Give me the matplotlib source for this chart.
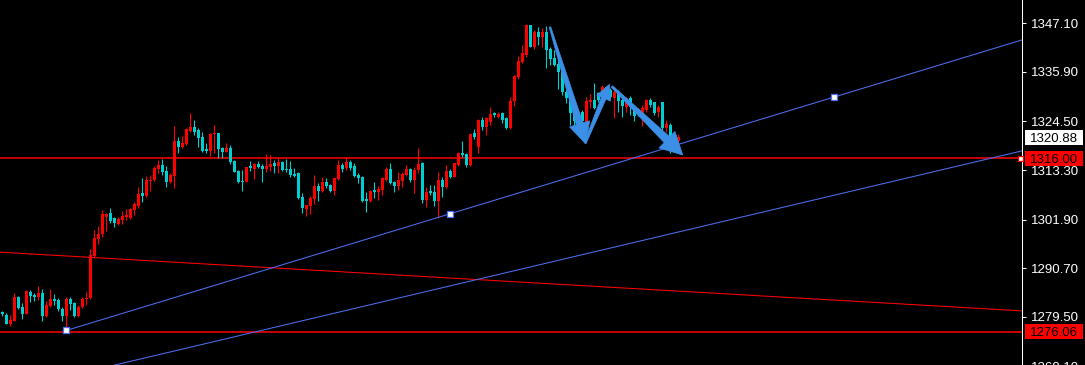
import numpy as np
import matplotlib
matplotlib.use('Agg')
import matplotlib.pyplot as plt
from matplotlib.patches import Polygon, Rectangle
from matplotlib.transforms import IdentityTransform

# --- candle data, one entry per bar ---
opens = [1280.7, 1280.0, 1277.9, 1278.6, 1284.2, 1281.9, 1280.2, 1285.2, 1284.5, 1284.0,
         1285.1, 1279.7, 1282.0, 1283.7, 1283.4, 1281.4, 1279.8, 1283.7, 1282.6, 1279.7,
         1281.7, 1283.6, 1283.8, 1293.5, 1297.4, 1298.5, 1302.4, 1303.3, 1302.2, 1300.8,
         1301.8, 1302.5, 1302.2, 1304.1, 1305.1, 1307.9, 1307.4, 1310.8, 1311.0, 1313.5,
         1314.5, 1313.1, 1310.5, 1312.0, 1320.0, 1318.5, 1319.3, 1322.3, 1323.1, 1322.5,
         1320.8, 1318.1, 1317.7, 1321.5, 1321.8, 1318.4, 1317.5, 1318.3, 1315.4, 1313.1,
         1310.8, 1310.6, 1314.2, 1313.5, 1314.7, 1314.3, 1313.5, 1313.9, 1314.8, 1314.3,
         1315.2, 1313.5, 1313.5, 1312.4, 1312.5, 1307.2, 1304.3, 1305.1, 1306.6, 1309.6,
         1308.5, 1310.6, 1309.9, 1308.5, 1311.2, 1314.5, 1313.7, 1315.2, 1314.3, 1312.2,
         1311.8, 1306.6, 1306.2, 1308.7, 1308.3, 1308.7, 1311.0, 1313.5, 1310.6, 1309.7,
         1310.8, 1312.2, 1313.5, 1311.0, 1313.3, 1314.8, 1306.4, 1308.5, 1308.3, 1306.2,
         1311.0, 1309.3, 1313.1, 1311.8, 1314.5, 1317.3, 1317.0, 1314.5, 1321.7, 1318.5,
         1324.8, 1323.3, 1324.4, 1326.5, 1325.6, 1326.3, 1325.2, 1322.9, 1329.2, 1334.8,
         1338.2, 1339.8, 1346.6, 1341.5, 1345.0, 1343.8, 1345.0, 1341.1, 1339.1, 1337.6,
         1335.9, 1331.2, 1329.9, 1326.4, 1324.6, 1326.6, 1324.4, 1328.9, 1329.4, 1330.9,
         1330.6, 1332.4, 1331.7, 1329.8, 1331.2, 1329.4, 1327.9, 1329.8, 1327.6, 1327.1,
         1326.0, 1327.1, 1329.4, 1328.9, 1326.7, 1328.9, 1322.9, 1323.7, 1318.7, 1320.0]
highs = [1280.9, 1280.3, 1280.0, 1284.9, 1284.3, 1282.7, 1285.6, 1285.7, 1285.1, 1286.6,
         1285.9, 1283.2, 1285.9, 1284.8, 1283.9, 1281.9, 1284.2, 1284.0, 1282.9, 1282.3,
         1284.1, 1285.2, 1295.1, 1299.5, 1300.4, 1304.1, 1303.3, 1304.6, 1302.6, 1302.5,
         1303.9, 1304.3, 1304.6, 1306.0, 1309.5, 1311.4, 1312.0, 1312.2, 1314.3, 1315.6,
         1315.8, 1314.2, 1312.5, 1323.4, 1321.0, 1321.1, 1322.9, 1326.5, 1324.8, 1322.9,
         1322.0, 1319.4, 1321.7, 1323.7, 1321.9, 1318.7, 1319.6, 1319.1, 1315.6, 1313.3,
         1313.3, 1314.0, 1315.4, 1314.8, 1315.4, 1314.7, 1317.0, 1316.8, 1315.6, 1316.0,
         1315.4, 1315.8, 1315.4, 1313.7, 1312.9, 1307.9, 1305.3, 1307.3, 1312.2, 1310.2,
         1311.6, 1311.4, 1310.1, 1311.6, 1315.6, 1315.0, 1316.0, 1315.6, 1314.8, 1312.5,
         1311.9, 1308.3, 1308.7, 1310.6, 1309.6, 1311.8, 1313.9, 1315.0, 1310.8, 1312.9,
         1312.8, 1314.5, 1313.8, 1314.1, 1318.3, 1315.2, 1309.5, 1309.9, 1309.9, 1312.9,
         1311.8, 1314.5, 1313.5, 1315.0, 1317.5, 1320.0, 1317.3, 1321.9, 1322.7, 1325.0,
         1325.4, 1325.4, 1327.7, 1326.7, 1326.7, 1326.7, 1325.6, 1330.0, 1335.2, 1339.5,
         1342.0, 1346.9, 1346.7, 1345.5, 1346.1, 1345.9, 1346.4, 1341.7, 1340.9, 1339.4,
         1336.8, 1331.7, 1330.3, 1326.9, 1327.1, 1327.1, 1330.2, 1330.7, 1333.2, 1331.2,
         1332.9, 1332.6, 1332.2, 1332.5, 1331.7, 1329.8, 1330.2, 1330.3, 1328.2, 1327.6,
         1328.2, 1329.6, 1329.9, 1329.0, 1328.2, 1329.0, 1324.8, 1324.0, 1320.7, 1321.6]
lows = [1279.8, 1277.8, 1277.4, 1278.6, 1281.3, 1279.1, 1280.1, 1283.0, 1283.2, 1283.4,
        1278.6, 1279.4, 1281.7, 1282.2, 1280.8, 1278.6, 1276.9, 1281.1, 1279.4, 1279.5,
        1281.6, 1282.3, 1283.7, 1293.1, 1296.3, 1298.0, 1299.3, 1301.0, 1300.3, 1300.6,
        1300.9, 1301.8, 1302.0, 1303.0, 1304.6, 1306.0, 1307.2, 1308.5, 1310.8, 1312.5,
        1312.2, 1309.5, 1310.2, 1309.1, 1317.3, 1318.3, 1319.1, 1322.1, 1321.4, 1318.7,
        1317.4, 1317.1, 1316.6, 1317.1, 1316.0, 1316.0, 1317.4, 1314.6, 1312.8, 1310.3,
        1308.5, 1310.5, 1313.1, 1311.2, 1313.7, 1310.6, 1312.9, 1313.1, 1312.7, 1312.7,
        1313.1, 1312.9, 1311.6, 1311.8, 1306.6, 1303.5, 1302.7, 1303.2, 1305.5, 1306.2,
        1308.3, 1309.1, 1308.3, 1307.6, 1311.0, 1312.9, 1313.3, 1313.3, 1311.8, 1310.4,
        1306.0, 1303.7, 1306.0, 1306.8, 1306.4, 1307.6, 1310.8, 1310.1, 1308.3, 1308.7,
        1309.3, 1312.0, 1310.6, 1308.1, 1312.7, 1305.6, 1304.7, 1307.6, 1305.0, 1302.2,
        1307.2, 1309.1, 1311.5, 1311.6, 1314.2, 1316.2, 1314.1, 1314.3, 1320.4, 1317.1,
        1322.5, 1321.4, 1323.7, 1325.4, 1325.2, 1324.2, 1322.7, 1322.7, 1328.0, 1334.2,
        1338.0, 1339.4, 1341.5, 1341.1, 1342.0, 1341.7, 1336.7, 1337.5, 1337.2, 1331.9,
        1330.6, 1328.7, 1323.7, 1323.4, 1323.9, 1323.4, 1324.0, 1327.5, 1327.3, 1328.9,
        1330.3, 1330.1, 1329.9, 1325.2, 1326.7, 1325.6, 1326.6, 1326.0, 1324.6, 1325.7,
        1323.5, 1326.7, 1327.9, 1326.0, 1325.6, 1322.5, 1322.1, 1317.1, 1317.9, 1319.8]
closes = [1280.2, 1277.9, 1278.8, 1284.2, 1281.5, 1280.2, 1285.5, 1284.3, 1284.2, 1284.9,
          1279.7, 1282.3, 1283.6, 1283.2, 1281.3, 1279.8, 1283.6, 1282.5, 1279.7, 1281.9,
          1283.6, 1283.9, 1293.8, 1297.6, 1298.6, 1303.2, 1303.2, 1301.6, 1301.0, 1302.0,
          1302.8, 1303.0, 1304.3, 1305.4, 1307.7, 1307.4, 1311.0, 1311.0, 1313.7, 1314.5,
          1312.9, 1310.6, 1312.2, 1320.0, 1318.7, 1319.4, 1322.7, 1323.1, 1322.0, 1320.7,
          1317.7, 1317.7, 1321.5, 1321.8, 1318.1, 1317.5, 1318.3, 1315.2, 1312.9, 1310.5,
          1310.6, 1313.9, 1313.7, 1314.7, 1314.1, 1313.5, 1314.2, 1314.7, 1314.2, 1315.2,
          1313.3, 1313.3, 1312.2, 1312.0, 1306.8, 1304.5, 1305.2, 1306.8, 1309.6, 1308.5,
          1310.6, 1309.7, 1308.5, 1311.4, 1314.5, 1313.5, 1315.1, 1313.8, 1312.0, 1311.5,
          1306.2, 1306.2, 1308.5, 1308.3, 1308.9, 1311.5, 1313.5, 1310.2, 1309.7, 1311.0,
          1312.4, 1313.5, 1311.0, 1313.3, 1314.7, 1306.4, 1308.3, 1307.9, 1306.2, 1311.0,
          1309.5, 1313.1, 1311.8, 1314.8, 1317.3, 1316.8, 1314.5, 1321.6, 1321.0, 1324.8,
          1323.3, 1325.2, 1326.2, 1326.0, 1326.2, 1324.8, 1322.9, 1329.2, 1334.9, 1338.4,
          1340.1, 1346.6, 1341.7, 1345.0, 1344.0, 1345.0, 1340.9, 1338.8, 1337.5, 1335.9,
          1331.2, 1329.9, 1326.4, 1324.6, 1326.6, 1324.6, 1329.2, 1329.4, 1327.6, 1329.4,
          1332.4, 1330.6, 1330.2, 1331.3, 1329.2, 1328.1, 1329.8, 1327.9, 1325.8, 1326.4,
          1327.5, 1329.4, 1328.2, 1326.3, 1327.9, 1322.9, 1323.8, 1318.7, 1320.0, 1320.9]

tick_prices = [1347.10, 1335.90, 1324.50, 1313.30, 1301.90, 1290.70, 1279.50, 1268.10]
hline_prices = [1316.00, 1276.06]
last_price = 1320.88

# drawn objects, as (bar, price)
trend_ray = [(16, 1276.4), (208, 1330.1)]      # selected trend line, ray to the right
trend_low = [(63.2, 1276.06), (254.9, 1317.7)]  # second blue line
trend_red = [(-0.575, 1294.4), (254.9, 1280.9)]
arrows = [  # start, tip, head length px, head half width px, shaft half widths px
    ((136.9, 1346.2), (145.85, 1319.3), 21, 10.5, 0.8, 3.5),
    ((145.7, 1319.5), (151.75, 1333.0), 15, 7.5, 1.0, 2.5),
    ((152.4, 1332.5), (170.1, 1316.75), 22, 11.5, 1.0, 4.0),
]

RED = '#ff0000'
CYAN = '#00ced1'
BLUE = '#4f6ef0'
ARROW = '#3b8fe6'

W, H = 1085, 365
fig = plt.figure(figsize=(W / 100, H / 100), dpi=100, facecolor='black')
ax = fig.add_axes([0, 0, 1022 / W, 1])
ax.set_facecolor('black')
xmin, xmax = -0.575, 254.9
ax.set_xlim(xmin, xmax)
ax.set_ylim(1268.45, 1352.4)

o = np.array(opens); h = np.array(highs); l = np.array(lows); c = np.array(closes)
x = np.arange(len(o))
up = c >= o
cols = np.where(up, RED, CYAN)
ax.vlines(x, l, h, colors=cols, linewidth=0.8, zorder=3)
body_lo = np.minimum(o, c)
body_h = np.maximum(np.abs(c - o), 0.25)
ax.bar(x, body_h, bottom=body_lo, width=0.75, color=cols, linewidth=0,
       antialiased=False, zorder=3)


def line_through(p, q, x0, x1):
    s = (q[1] - p[1]) / (q[0] - p[0])
    return [x0, x1], [p[1] + s * (x0 - p[0]), p[1] + s * (x1 - p[0])]


# horizontal lines
for hp in hline_prices:
    ax.axhline(hp, color=RED, linewidth=1.1, zorder=2)

# red diagonal
xs, ys = line_through(trend_red[0], trend_red[1], xmin, xmax)
ax.plot(xs, ys, color=RED, linewidth=0.75, zorder=2)

# blue lines
xs, ys = line_through(trend_ray[0], trend_ray[1], trend_ray[0][0], xmax)
ax.plot(xs, ys, color=BLUE, linewidth=0.75, zorder=4)
xs, ys = line_through(trend_low[0], trend_low[1], xmin, xmax)
ax.plot(xs, ys, color=BLUE, linewidth=0.75, zorder=4)
mid = ((trend_ray[0][0] + trend_ray[1][0]) / 2, (trend_ray[0][1] + trend_ray[1][1]) / 2)
for px, py in [trend_ray[0], mid, trend_ray[1]]:
    ax.plot(px, py, marker='s', markersize=3.8, mfc='white', mec=BLUE, mew=0.9,
            zorder=6, clip_on=False)
ax.plot(xmax - 0.4, hline_prices[0], marker='s', markersize=3.6, mfc='white',
        mec=RED, mew=0.9, zorder=6, clip_on=False)

# arrows, built in pixel space so the shape keeps its proportions
inv = ax.transData.inverted()
for s, t, hl, hw, w0, w1 in arrows:
    S = ax.transData.transform(s)
    T = ax.transData.transform(t)
    u = (T - S) / np.hypot(*(T - S))
    n = np.array([-u[1], u[0]])
    B = T - u * hl
    pts = [S + n * w0, B + n * w1, B + n * hw, T, B - n * hw, B - n * w1, S - n * w0]
    ax.add_patch(Polygon(inv.transform(np.array(pts)), closed=True, fc=ARROW,
                         ec=ARROW, lw=0.5, zorder=7))

# right price axis
for sp in ['top', 'left', 'bottom']:
    ax.spines[sp].set_visible(False)
ax.spines['right'].set_color('white')
ax.spines['right'].set_linewidth(0.75)
ax.set_xticks([])
ax.yaxis.tick_right()
ax.set_yticks([tp for tp in tick_prices if tp > 1268.45])
ax.set_yticklabels([])
ax.tick_params(axis='y', colors='white', length=3, width=0.75)
for tp in tick_prices:
    ax.annotate(f'{tp:.2f}', xy=(1, tp), xycoords=('axes fraction', 'data'),
                xytext=(9, 0), textcoords='offset pixels', ha='left',
                va='center_baseline', color='white', fontsize=9.5,
                family='Liberation Sans', annotation_clip=False)

# price boxes
boxes = [(last_price, 'white'), (hline_prices[0], RED), (hline_prices[1], RED)]
for bp, fc in boxes:
    yd = ax.transData.transform((0, bp))[1]
    fig.add_artist(Rectangle((1025, yd - 7.5), 58, 15, transform=IdentityTransform(),
                             fc=fc, ec='none', zorder=5))
    fig.text(1030, yd, f'{bp:.2f}', transform=IdentityTransform(), ha='left',
             va='center_baseline', color='black', fontsize=9.5,
             family='Liberation Sans', zorder=6)

fig.savefig('out.png', dpi=100, facecolor='black')
